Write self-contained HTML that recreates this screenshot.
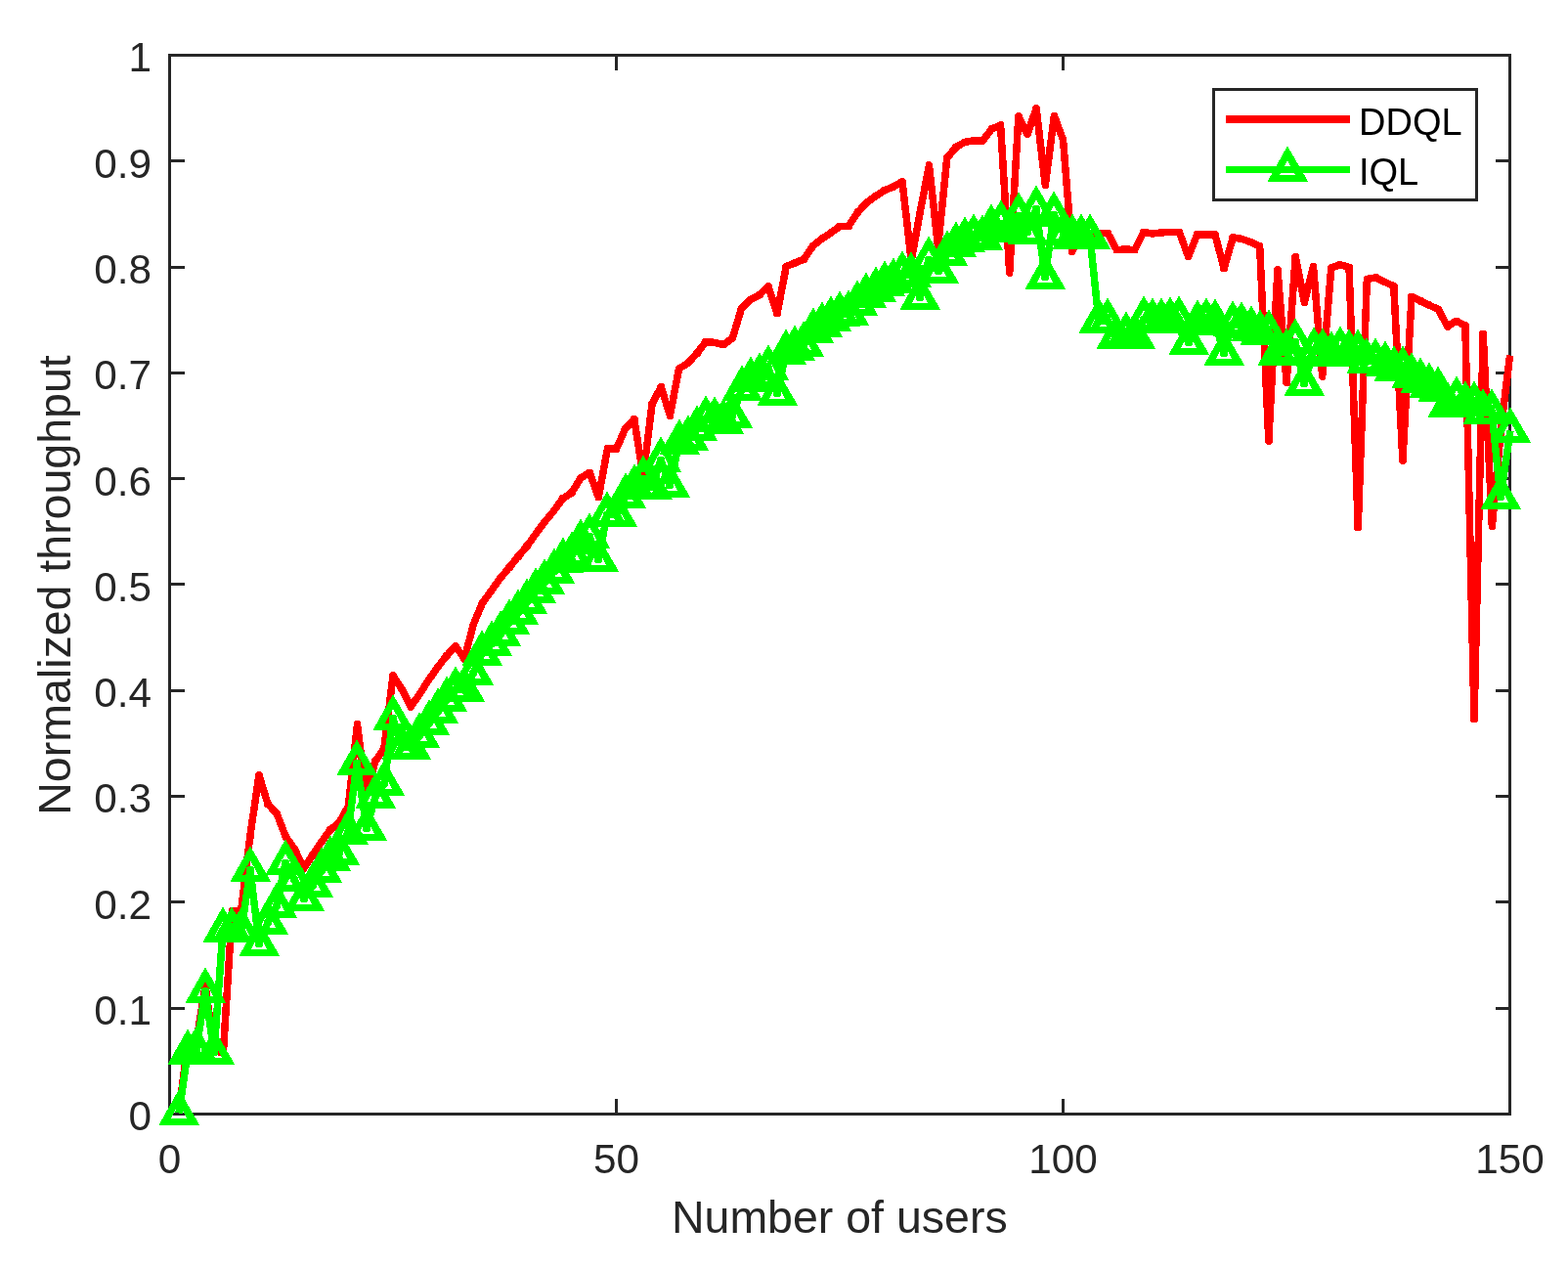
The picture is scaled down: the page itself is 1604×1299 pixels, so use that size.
<!DOCTYPE html>
<html lang="en"><head><meta charset="utf-8"><title>Normalized throughput vs number of users</title>
<style>
html,body{margin:0;padding:0;background:#fff;}
body{width:1604px;height:1299px;overflow:hidden;}
svg{display:block;}
text{font-family:"Liberation Sans", sans-serif;}
.t{font-size:42.3px;fill:#262626;}
.l{font-size:46.5px;fill:#262626;}
.g{font-size:38.0px;fill:#000;}
</style></head><body>
<svg width="1604" height="1299" viewBox="0 0 1604 1299">
<rect x="0" y="0" width="1604" height="1299" fill="#ffffff"/>

<g fill="#262626" shape-rendering="crispEdges">
<rect x="172" y="55" width="3" height="1086"/>
<rect x="1543" y="55" width="3" height="1086"/>
<rect x="172" y="55" width="1374" height="3"/>
<rect x="172" y="1138" width="1374" height="3"/>
<rect x="175" y="1030" width="14" height="3"/>
<rect x="1530" y="1030" width="13" height="3"/>
<rect x="175" y="921" width="14" height="3"/>
<rect x="1530" y="921" width="13" height="3"/>
<rect x="175" y="813" width="14" height="3"/>
<rect x="1530" y="813" width="13" height="3"/>
<rect x="175" y="705" width="14" height="3"/>
<rect x="1530" y="705" width="13" height="3"/>
<rect x="175" y="596" width="14" height="3"/>
<rect x="1530" y="596" width="13" height="3"/>
<rect x="175" y="488" width="14" height="3"/>
<rect x="1530" y="488" width="13" height="3"/>
<rect x="175" y="380" width="14" height="3"/>
<rect x="1530" y="380" width="13" height="3"/>
<rect x="175" y="272" width="14" height="3"/>
<rect x="1530" y="272" width="13" height="3"/>
<rect x="175" y="163" width="14" height="3"/>
<rect x="1530" y="163" width="13" height="3"/>
<rect x="629" y="1124" width="3" height="14"/>
<rect x="629" y="58" width="3" height="14"/>
<rect x="1086" y="1124" width="3" height="14"/>
<rect x="1086" y="58" width="3" height="14"/>
</g>
<text class="t" x="155.0" y="1156.30" text-anchor="end">0</text>
<text class="t" x="155.0" y="1048.00" text-anchor="end">0.1</text>
<text class="t" x="155.0" y="939.70" text-anchor="end">0.2</text>
<text class="t" x="155.0" y="831.40" text-anchor="end">0.3</text>
<text class="t" x="155.0" y="723.10" text-anchor="end">0.4</text>
<text class="t" x="155.0" y="614.80" text-anchor="end">0.5</text>
<text class="t" x="155.0" y="506.50" text-anchor="end">0.6</text>
<text class="t" x="155.0" y="398.20" text-anchor="end">0.7</text>
<text class="t" x="155.0" y="289.90" text-anchor="end">0.8</text>
<text class="t" x="155.0" y="181.60" text-anchor="end">0.9</text>
<text class="t" x="155.0" y="73.30" text-anchor="end">1</text>
<text class="t" x="173.50" y="1200.3" text-anchor="middle">0</text>
<text class="t" x="630.53" y="1200.3" text-anchor="middle">50</text>
<text class="t" x="1087.57" y="1200.3" text-anchor="middle">100</text>
<text class="t" x="1544.60" y="1200.3" text-anchor="middle">150</text>
<text class="l" x="858.8" y="1260.8" text-anchor="middle">Number of users</text>
<text class="l" transform="translate(72,598.5) rotate(-90)" text-anchor="middle">Normalized throughput</text>
<polyline points="183.00,1138.50 191.78,1068.93 200.92,1065.69 210.06,1008.31 219.20,1074.35 228.34,1077.27 237.48,931.67 246.63,931.67 255.77,855.67 264.91,793.10 274.05,822.44 283.19,832.29 292.33,856.00 301.47,868.45 310.61,888.47 319.75,874.72 328.89,860.98 338.03,848.64 347.17,841.06 356.31,824.82 365.45,740.92 374.59,814.53 383.74,778.81 392.88,765.82 402.02,691.12 411.16,705.20 420.30,722.84 429.44,709.53 438.58,695.45 447.72,682.46 456.86,670.56 466.00,660.81 475.14,673.80 484.28,638.62 493.42,616.86 502.56,604.20 511.70,591.53 520.85,580.60 529.99,569.45 539.13,558.51 548.27,545.74 557.41,533.51 566.55,522.57 575.69,509.91 584.83,503.84 593.97,489.01 603.11,483.27 612.25,508.61 621.39,459.24 630.53,459.24 639.67,438.35 648.81,428.82 657.96,486.52 667.10,412.91 676.24,395.91 685.38,424.93 694.52,377.29 703.66,371.34 712.80,361.60 721.94,349.58 731.08,350.34 740.22,352.61 749.36,345.79 758.50,315.26 767.64,306.28 776.78,301.73 785.92,293.07 795.07,320.46 804.21,272.61 813.35,268.82 822.49,265.14 831.63,251.61 840.77,244.14 849.91,238.19 859.05,231.58 868.19,231.26 877.33,217.18 886.47,207.44 895.61,200.62 904.75,194.67 913.89,190.99 923.03,185.79 932.18,266.55 941.32,216.32 950.46,169.23 959.60,252.80 968.74,161.76 977.88,150.61 987.02,145.30 996.16,143.79 1005.30,144.00 1014.44,131.88 1023.58,128.20 1032.72,279.00 1041.86,119.10 1051.00,137.08 1060.14,110.88 1069.29,189.47 1078.43,118.35 1087.57,143.35 1096.71,257.45 1105.85,238.62 1114.99,238.62 1124.13,238.62 1133.27,238.62 1142.41,255.72 1151.55,254.86 1160.69,255.72 1169.83,237.32 1178.97,239.05 1188.11,237.86 1197.25,237.54 1206.40,237.54 1215.54,262.54 1224.68,240.03 1233.82,240.03 1242.96,240.03 1252.10,274.45 1261.24,242.95 1270.38,244.36 1279.52,247.71 1288.66,251.83 1297.80,450.80 1306.94,275.86 1316.08,391.26 1325.22,262.87 1334.36,308.98 1343.51,272.83 1352.65,384.76 1361.79,274.02 1370.93,270.66 1380.07,273.37 1389.21,539.68 1398.35,285.38 1407.49,284.09 1416.63,288.42 1425.77,292.75 1434.91,470.93 1444.05,303.25 1453.19,307.79 1462.33,312.23 1471.47,316.56 1480.62,333.88 1489.76,328.25 1498.90,333.23 1508.04,735.62 1517.18,341.46 1526.32,538.48 1535.46,437.81 1544.60,363.44" fill="none" stroke="#ff0000" stroke-width="7.5" stroke-linejoin="bevel" stroke-linecap="butt" shape-rendering="crispEdges"/>
<path d="M189.83,1065.18L193.73,1065.18L195.53,1066.98L195.53,1070.88L193.73,1072.68L189.83,1072.68L188.03,1070.88L188.03,1066.98ZM198.97,1061.94L202.87,1061.94L204.67,1063.74L204.67,1067.64L202.87,1069.44L198.97,1069.44L197.17,1067.64L197.17,1063.74ZM208.11,1004.56L212.01,1004.56L213.81,1006.36L213.81,1010.26L212.01,1012.06L208.11,1012.06L206.31,1010.26L206.31,1006.36ZM217.25,1070.60L221.15,1070.60L222.95,1072.40L222.95,1076.30L221.15,1078.10L217.25,1078.10L215.45,1076.30L215.45,1072.40ZM226.39,1073.52L230.29,1073.52L232.09,1075.32L232.09,1079.22L230.29,1081.02L226.39,1081.02L224.59,1079.22L224.59,1075.32ZM235.53,927.92L239.43,927.92L241.23,929.72L241.23,933.62L239.43,935.42L235.53,935.42L233.73,933.62L233.73,929.72ZM244.68,927.92L248.58,927.92L250.38,929.72L250.38,933.62L248.58,935.42L244.68,935.42L242.88,933.62L242.88,929.72ZM253.82,851.92L257.72,851.92L259.52,853.72L259.52,857.62L257.72,859.42L253.82,859.42L252.02,857.62L252.02,853.72ZM262.96,789.35L266.86,789.35L268.66,791.15L268.66,795.05L266.86,796.85L262.96,796.85L261.16,795.05L261.16,791.15ZM272.10,818.69L276.00,818.69L277.80,820.49L277.80,824.39L276.00,826.19L272.10,826.19L270.30,824.39L270.30,820.49ZM281.24,828.54L285.14,828.54L286.94,830.34L286.94,834.24L285.14,836.04L281.24,836.04L279.44,834.24L279.44,830.34ZM290.38,852.25L294.28,852.25L296.08,854.05L296.08,857.95L294.28,859.75L290.38,859.75L288.58,857.95L288.58,854.05ZM299.52,864.70L303.42,864.70L305.22,866.50L305.22,870.40L303.42,872.20L299.52,872.20L297.72,870.40L297.72,866.50ZM308.66,884.72L312.56,884.72L314.36,886.52L314.36,890.42L312.56,892.22L308.66,892.22L306.86,890.42L306.86,886.52ZM317.80,870.97L321.70,870.97L323.50,872.77L323.50,876.67L321.70,878.47L317.80,878.47L316.00,876.67L316.00,872.77ZM326.94,857.23L330.84,857.23L332.64,859.03L332.64,862.93L330.84,864.73L326.94,864.73L325.14,862.93L325.14,859.03ZM336.08,844.89L339.98,844.89L341.78,846.69L341.78,850.59L339.98,852.39L336.08,852.39L334.28,850.59L334.28,846.69ZM345.22,837.31L349.12,837.31L350.92,839.11L350.92,843.01L349.12,844.81L345.22,844.81L343.42,843.01L343.42,839.11ZM354.36,821.07L358.26,821.07L360.06,822.87L360.06,826.77L358.26,828.57L354.36,828.57L352.56,826.77L352.56,822.87ZM363.50,737.17L367.40,737.17L369.20,738.97L369.20,742.87L367.40,744.67L363.50,744.67L361.70,742.87L361.70,738.97ZM372.64,810.78L376.54,810.78L378.34,812.58L378.34,816.49L376.54,818.28L372.64,818.28L370.84,816.49L370.84,812.58ZM381.79,775.06L385.69,775.06L387.49,776.86L387.49,780.76L385.69,782.56L381.79,782.56L379.99,780.76L379.99,776.86ZM390.93,762.07L394.83,762.07L396.63,763.87L396.63,767.77L394.83,769.57L390.93,769.57L389.13,767.77L389.13,763.87ZM400.07,687.37L403.97,687.37L405.77,689.17L405.77,693.07L403.97,694.87L400.07,694.87L398.27,693.07L398.27,689.17ZM409.21,701.45L413.11,701.45L414.91,703.25L414.91,707.15L413.11,708.95L409.21,708.95L407.41,707.15L407.41,703.25ZM418.35,719.09L422.25,719.09L424.05,720.89L424.05,724.79L422.25,726.59L418.35,726.59L416.55,724.79L416.55,720.89ZM427.49,705.78L431.39,705.78L433.19,707.58L433.19,711.48L431.39,713.28L427.49,713.28L425.69,711.48L425.69,707.58ZM436.63,691.70L440.53,691.70L442.33,693.50L442.33,697.40L440.53,699.20L436.63,699.20L434.83,697.40L434.83,693.50ZM445.77,678.71L449.67,678.71L451.47,680.51L451.47,684.41L449.67,686.21L445.77,686.21L443.97,684.41L443.97,680.51ZM454.91,666.81L458.81,666.81L460.61,668.61L460.61,672.51L458.81,674.31L454.91,674.31L453.11,672.51L453.11,668.61ZM464.05,657.06L467.95,657.06L469.75,658.86L469.75,662.76L467.95,664.56L464.05,664.56L462.25,662.76L462.25,658.86ZM473.19,670.05L477.09,670.05L478.89,671.85L478.89,675.75L477.09,677.55L473.19,677.55L471.39,675.75L471.39,671.85ZM482.33,634.87L486.23,634.87L488.03,636.67L488.03,640.57L486.23,642.37L482.33,642.37L480.53,640.57L480.53,636.67ZM491.47,613.11L495.37,613.11L497.17,614.91L497.17,618.81L495.37,620.61L491.47,620.61L489.67,618.81L489.67,614.91ZM500.61,600.45L504.51,600.45L506.31,602.25L506.31,606.15L504.51,607.95L500.61,607.95L498.81,606.15L498.81,602.25ZM509.75,587.78L513.65,587.78L515.45,589.58L515.45,593.48L513.65,595.28L509.75,595.28L507.95,593.48L507.95,589.58ZM518.90,576.85L522.80,576.85L524.60,578.65L524.60,582.55L522.80,584.35L518.90,584.35L517.10,582.55L517.10,578.65ZM528.04,565.70L531.94,565.70L533.74,567.50L533.74,571.40L531.94,573.20L528.04,573.20L526.24,571.40L526.24,567.50ZM537.18,554.76L541.08,554.76L542.88,556.56L542.88,560.46L541.08,562.26L537.18,562.26L535.38,560.46L535.38,556.56ZM546.32,541.99L550.22,541.99L552.02,543.79L552.02,547.69L550.22,549.49L546.32,549.49L544.52,547.69L544.52,543.79ZM555.46,529.76L559.36,529.76L561.16,531.56L561.16,535.46L559.36,537.26L555.46,537.26L553.66,535.46L553.66,531.56ZM564.60,518.82L568.50,518.82L570.30,520.62L570.30,524.52L568.50,526.32L564.60,526.32L562.80,524.52L562.80,520.62ZM573.74,506.16L577.64,506.16L579.44,507.96L579.44,511.86L577.64,513.66L573.74,513.66L571.94,511.86L571.94,507.96ZM582.88,500.09L586.78,500.09L588.58,501.89L588.58,505.79L586.78,507.59L582.88,507.59L581.08,505.79L581.08,501.89ZM592.02,485.26L595.92,485.26L597.72,487.06L597.72,490.96L595.92,492.76L592.02,492.76L590.22,490.96L590.22,487.06ZM601.16,479.52L605.06,479.52L606.86,481.32L606.86,485.22L605.06,487.02L601.16,487.02L599.36,485.22L599.36,481.32ZM610.30,504.86L614.20,504.86L616.00,506.66L616.00,510.56L614.20,512.36L610.30,512.36L608.50,510.56L608.50,506.66ZM619.44,455.49L623.34,455.49L625.14,457.29L625.14,461.19L623.34,462.99L619.44,462.99L617.64,461.19L617.64,457.29ZM628.58,455.49L632.48,455.49L634.28,457.29L634.28,461.19L632.48,462.99L628.58,462.99L626.78,461.19L626.78,457.29ZM637.72,434.60L641.62,434.60L643.42,436.40L643.42,440.30L641.62,442.10L637.72,442.10L635.92,440.30L635.92,436.40ZM646.86,425.07L650.76,425.07L652.56,426.87L652.56,430.77L650.76,432.57L646.86,432.57L645.06,430.77L645.06,426.87ZM656.01,482.77L659.91,482.77L661.71,484.57L661.71,488.47L659.91,490.27L656.01,490.27L654.21,488.47L654.21,484.57ZM665.15,409.16L669.05,409.16L670.85,410.96L670.85,414.86L669.05,416.66L665.15,416.66L663.35,414.86L663.35,410.96ZM674.29,392.16L678.19,392.16L679.99,393.96L679.99,397.86L678.19,399.66L674.29,399.66L672.49,397.86L672.49,393.96ZM683.43,421.18L687.33,421.18L689.13,422.98L689.13,426.88L687.33,428.68L683.43,428.68L681.63,426.88L681.63,422.98ZM692.57,373.54L696.47,373.54L698.27,375.34L698.27,379.24L696.47,381.04L692.57,381.04L690.77,379.24L690.77,375.34ZM701.71,367.59L705.61,367.59L707.41,369.39L707.41,373.29L705.61,375.09L701.71,375.09L699.91,373.29L699.91,369.39ZM710.85,357.85L714.75,357.85L716.55,359.65L716.55,363.55L714.75,365.35L710.85,365.35L709.05,363.55L709.05,359.65ZM719.99,345.83L723.89,345.83L725.69,347.63L725.69,351.53L723.89,353.33L719.99,353.33L718.19,351.53L718.19,347.63ZM729.13,346.59L733.03,346.59L734.83,348.39L734.83,352.29L733.03,354.09L729.13,354.09L727.33,352.29L727.33,348.39ZM738.27,348.86L742.17,348.86L743.97,350.66L743.97,354.56L742.17,356.36L738.27,356.36L736.47,354.56L736.47,350.66ZM747.41,342.04L751.31,342.04L753.11,343.84L753.11,347.74L751.31,349.54L747.41,349.54L745.61,347.74L745.61,343.84ZM756.55,311.51L760.45,311.51L762.25,313.31L762.25,317.21L760.45,319.01L756.55,319.01L754.75,317.21L754.75,313.31ZM765.69,302.53L769.59,302.53L771.39,304.33L771.39,308.23L769.59,310.03L765.69,310.03L763.89,308.23L763.89,304.33ZM774.83,297.98L778.73,297.98L780.53,299.78L780.53,303.68L778.73,305.48L774.83,305.48L773.03,303.68L773.03,299.78ZM783.97,289.32L787.87,289.32L789.67,291.12L789.67,295.02L787.87,296.82L783.97,296.82L782.17,295.02L782.17,291.12ZM793.12,316.71L797.02,316.71L798.82,318.51L798.82,322.41L797.02,324.21L793.12,324.21L791.32,322.41L791.32,318.51ZM802.26,268.86L806.16,268.86L807.96,270.66L807.96,274.56L806.16,276.36L802.26,276.36L800.46,274.56L800.46,270.66ZM811.40,265.07L815.30,265.07L817.10,266.87L817.10,270.77L815.30,272.57L811.40,272.57L809.60,270.77L809.60,266.87ZM820.54,261.39L824.44,261.39L826.24,263.19L826.24,267.09L824.44,268.89L820.54,268.89L818.74,267.09L818.74,263.19ZM829.68,247.86L833.58,247.86L835.38,249.66L835.38,253.56L833.58,255.36L829.68,255.36L827.88,253.56L827.88,249.66ZM838.82,240.39L842.72,240.39L844.52,242.19L844.52,246.09L842.72,247.89L838.82,247.89L837.02,246.09L837.02,242.19ZM847.96,234.44L851.86,234.44L853.66,236.24L853.66,240.14L851.86,241.94L847.96,241.94L846.16,240.14L846.16,236.24ZM857.10,227.83L861.00,227.83L862.80,229.63L862.80,233.53L861.00,235.33L857.10,235.33L855.30,233.53L855.30,229.63ZM866.24,227.51L870.14,227.51L871.94,229.31L871.94,233.21L870.14,235.01L866.24,235.01L864.44,233.21L864.44,229.31ZM875.38,213.43L879.28,213.43L881.08,215.23L881.08,219.13L879.28,220.93L875.38,220.93L873.58,219.13L873.58,215.23ZM884.52,203.69L888.42,203.69L890.22,205.49L890.22,209.39L888.42,211.19L884.52,211.19L882.72,209.39L882.72,205.49ZM893.66,196.87L897.56,196.87L899.36,198.67L899.36,202.57L897.56,204.37L893.66,204.37L891.86,202.57L891.86,198.67ZM902.80,190.92L906.70,190.92L908.50,192.72L908.50,196.62L906.70,198.42L902.80,198.42L901.00,196.62L901.00,192.72ZM911.94,187.24L915.84,187.24L917.64,189.04L917.64,192.94L915.84,194.74L911.94,194.74L910.14,192.94L910.14,189.04ZM921.08,182.04L924.98,182.04L926.78,183.84L926.78,187.74L924.98,189.54L921.08,189.54L919.28,187.74L919.28,183.84ZM930.23,262.80L934.13,262.80L935.93,264.60L935.93,268.50L934.13,270.30L930.23,270.30L928.43,268.50L928.43,264.60ZM939.37,212.57L943.27,212.57L945.07,214.37L945.07,218.27L943.27,220.07L939.37,220.07L937.57,218.27L937.57,214.37ZM948.51,165.48L952.41,165.48L954.21,167.28L954.21,171.18L952.41,172.98L948.51,172.98L946.71,171.18L946.71,167.28ZM957.65,249.05L961.55,249.05L963.35,250.85L963.35,254.75L961.55,256.55L957.65,256.55L955.85,254.75L955.85,250.85ZM966.79,158.01L970.69,158.01L972.49,159.81L972.49,163.71L970.69,165.51L966.79,165.51L964.99,163.71L964.99,159.81ZM975.93,146.86L979.83,146.86L981.63,148.66L981.63,152.56L979.83,154.36L975.93,154.36L974.13,152.56L974.13,148.66ZM985.07,141.55L988.97,141.55L990.77,143.35L990.77,147.25L988.97,149.05L985.07,149.05L983.27,147.25L983.27,143.35ZM994.21,140.04L998.11,140.04L999.91,141.84L999.91,145.74L998.11,147.54L994.21,147.54L992.41,145.74L992.41,141.84ZM1003.35,140.25L1007.25,140.25L1009.05,142.05L1009.05,145.95L1007.25,147.75L1003.35,147.75L1001.55,145.95L1001.55,142.05ZM1012.49,128.13L1016.39,128.13L1018.19,129.93L1018.19,133.83L1016.39,135.63L1012.49,135.63L1010.69,133.83L1010.69,129.93ZM1021.63,124.45L1025.53,124.45L1027.33,126.25L1027.33,130.15L1025.53,131.95L1021.63,131.95L1019.83,130.15L1019.83,126.25ZM1030.77,275.25L1034.67,275.25L1036.47,277.05L1036.47,280.95L1034.67,282.75L1030.77,282.75L1028.97,280.95L1028.97,277.05ZM1039.91,115.35L1043.81,115.35L1045.61,117.15L1045.61,121.05L1043.81,122.85L1039.91,122.85L1038.11,121.05L1038.11,117.15ZM1049.05,133.33L1052.95,133.33L1054.75,135.13L1054.75,139.03L1052.95,140.83L1049.05,140.83L1047.25,139.03L1047.25,135.13ZM1058.19,107.13L1062.09,107.13L1063.89,108.93L1063.89,112.83L1062.09,114.63L1058.19,114.63L1056.39,112.83L1056.39,108.93ZM1067.34,185.72L1071.24,185.72L1073.04,187.52L1073.04,191.42L1071.24,193.22L1067.34,193.22L1065.54,191.42L1065.54,187.52ZM1076.48,114.60L1080.38,114.60L1082.18,116.40L1082.18,120.30L1080.38,122.10L1076.48,122.10L1074.68,120.30L1074.68,116.40ZM1085.62,139.60L1089.52,139.60L1091.32,141.40L1091.32,145.30L1089.52,147.10L1085.62,147.10L1083.82,145.30L1083.82,141.40ZM1094.76,253.70L1098.66,253.70L1100.46,255.50L1100.46,259.40L1098.66,261.20L1094.76,261.20L1092.96,259.40L1092.96,255.50ZM1103.90,234.87L1107.80,234.87L1109.60,236.67L1109.60,240.57L1107.80,242.37L1103.90,242.37L1102.10,240.57L1102.10,236.67ZM1113.04,234.87L1116.94,234.87L1118.74,236.67L1118.74,240.57L1116.94,242.37L1113.04,242.37L1111.24,240.57L1111.24,236.67ZM1122.18,234.87L1126.08,234.87L1127.88,236.67L1127.88,240.57L1126.08,242.37L1122.18,242.37L1120.38,240.57L1120.38,236.67ZM1131.32,234.87L1135.22,234.87L1137.02,236.67L1137.02,240.57L1135.22,242.37L1131.32,242.37L1129.52,240.57L1129.52,236.67ZM1140.46,251.97L1144.36,251.97L1146.16,253.77L1146.16,257.67L1144.36,259.47L1140.46,259.47L1138.66,257.67L1138.66,253.77ZM1149.60,251.11L1153.50,251.11L1155.30,252.91L1155.30,256.81L1153.50,258.61L1149.60,258.61L1147.80,256.81L1147.80,252.91ZM1158.74,251.97L1162.64,251.97L1164.44,253.77L1164.44,257.67L1162.64,259.47L1158.74,259.47L1156.94,257.67L1156.94,253.77ZM1167.88,233.57L1171.78,233.57L1173.58,235.37L1173.58,239.27L1171.78,241.07L1167.88,241.07L1166.08,239.27L1166.08,235.37ZM1177.02,235.30L1180.92,235.30L1182.72,237.10L1182.72,241.00L1180.92,242.80L1177.02,242.80L1175.22,241.00L1175.22,237.10ZM1186.16,234.11L1190.06,234.11L1191.86,235.91L1191.86,239.81L1190.06,241.61L1186.16,241.61L1184.36,239.81L1184.36,235.91ZM1195.30,233.79L1199.20,233.79L1201.00,235.59L1201.00,239.49L1199.20,241.29L1195.30,241.29L1193.50,239.49L1193.50,235.59ZM1204.45,233.79L1208.35,233.79L1210.15,235.59L1210.15,239.49L1208.35,241.29L1204.45,241.29L1202.65,239.49L1202.65,235.59ZM1213.59,258.79L1217.49,258.79L1219.29,260.59L1219.29,264.49L1217.49,266.29L1213.59,266.29L1211.79,264.49L1211.79,260.59ZM1222.73,236.28L1226.63,236.28L1228.43,238.08L1228.43,241.98L1226.63,243.78L1222.73,243.78L1220.93,241.98L1220.93,238.08ZM1231.87,236.28L1235.77,236.28L1237.57,238.08L1237.57,241.98L1235.77,243.78L1231.87,243.78L1230.07,241.98L1230.07,238.08ZM1241.01,236.28L1244.91,236.28L1246.71,238.08L1246.71,241.98L1244.91,243.78L1241.01,243.78L1239.21,241.98L1239.21,238.08ZM1250.15,270.70L1254.05,270.70L1255.85,272.50L1255.85,276.40L1254.05,278.20L1250.15,278.20L1248.35,276.40L1248.35,272.50ZM1259.29,239.20L1263.19,239.20L1264.99,241.00L1264.99,244.90L1263.19,246.70L1259.29,246.70L1257.49,244.90L1257.49,241.00ZM1268.43,240.61L1272.33,240.61L1274.13,242.41L1274.13,246.31L1272.33,248.11L1268.43,248.11L1266.63,246.31L1266.63,242.41ZM1277.57,243.96L1281.47,243.96L1283.27,245.76L1283.27,249.66L1281.47,251.46L1277.57,251.46L1275.77,249.66L1275.77,245.76ZM1286.71,248.08L1290.61,248.08L1292.41,249.88L1292.41,253.78L1290.61,255.58L1286.71,255.58L1284.91,253.78L1284.91,249.88ZM1295.85,447.05L1299.75,447.05L1301.55,448.85L1301.55,452.75L1299.75,454.55L1295.85,454.55L1294.05,452.75L1294.05,448.85ZM1304.99,272.11L1308.89,272.11L1310.69,273.91L1310.69,277.81L1308.89,279.61L1304.99,279.61L1303.19,277.81L1303.19,273.91ZM1314.13,387.51L1318.03,387.51L1319.83,389.31L1319.83,393.21L1318.03,395.01L1314.13,395.01L1312.33,393.21L1312.33,389.31ZM1323.27,259.12L1327.17,259.12L1328.97,260.92L1328.97,264.82L1327.17,266.62L1323.27,266.62L1321.47,264.82L1321.47,260.92ZM1332.41,305.23L1336.31,305.23L1338.11,307.03L1338.11,310.93L1336.31,312.73L1332.41,312.73L1330.61,310.93L1330.61,307.03ZM1341.56,269.08L1345.46,269.08L1347.26,270.88L1347.26,274.78L1345.46,276.58L1341.56,276.58L1339.76,274.78L1339.76,270.88ZM1350.70,381.01L1354.60,381.01L1356.40,382.81L1356.40,386.71L1354.60,388.51L1350.70,388.51L1348.90,386.71L1348.90,382.81ZM1359.84,270.27L1363.74,270.27L1365.54,272.07L1365.54,275.97L1363.74,277.77L1359.84,277.77L1358.04,275.97L1358.04,272.07ZM1368.98,266.91L1372.88,266.91L1374.68,268.71L1374.68,272.61L1372.88,274.41L1368.98,274.41L1367.18,272.61L1367.18,268.71ZM1378.12,269.62L1382.02,269.62L1383.82,271.42L1383.82,275.32L1382.02,277.12L1378.12,277.12L1376.32,275.32L1376.32,271.42ZM1387.26,535.93L1391.16,535.93L1392.96,537.73L1392.96,541.63L1391.16,543.43L1387.26,543.43L1385.46,541.63L1385.46,537.73ZM1396.40,281.63L1400.30,281.63L1402.10,283.43L1402.10,287.33L1400.30,289.13L1396.40,289.13L1394.60,287.33L1394.60,283.43ZM1405.54,280.34L1409.44,280.34L1411.24,282.14L1411.24,286.04L1409.44,287.84L1405.54,287.84L1403.74,286.04L1403.74,282.14ZM1414.68,284.67L1418.58,284.67L1420.38,286.47L1420.38,290.37L1418.58,292.17L1414.68,292.17L1412.88,290.37L1412.88,286.47ZM1423.82,289.00L1427.72,289.00L1429.52,290.80L1429.52,294.70L1427.72,296.50L1423.82,296.50L1422.02,294.70L1422.02,290.80ZM1432.96,467.18L1436.86,467.18L1438.66,468.98L1438.66,472.88L1436.86,474.68L1432.96,474.68L1431.16,472.88L1431.16,468.98ZM1442.10,299.50L1446.00,299.50L1447.80,301.30L1447.80,305.20L1446.00,307.00L1442.10,307.00L1440.30,305.20L1440.30,301.30ZM1451.24,304.04L1455.14,304.04L1456.94,305.84L1456.94,309.74L1455.14,311.54L1451.24,311.54L1449.44,309.74L1449.44,305.84ZM1460.38,308.48L1464.28,308.48L1466.08,310.28L1466.08,314.18L1464.28,315.98L1460.38,315.98L1458.58,314.18L1458.58,310.28ZM1469.52,312.81L1473.42,312.81L1475.22,314.61L1475.22,318.51L1473.42,320.31L1469.52,320.31L1467.72,318.51L1467.72,314.61ZM1478.67,330.13L1482.57,330.13L1484.37,331.93L1484.37,335.83L1482.57,337.63L1478.67,337.63L1476.87,335.83L1476.87,331.93ZM1487.81,324.50L1491.71,324.50L1493.51,326.30L1493.51,330.20L1491.71,332.00L1487.81,332.00L1486.01,330.20L1486.01,326.30ZM1496.95,329.48L1500.85,329.48L1502.65,331.28L1502.65,335.18L1500.85,336.98L1496.95,336.98L1495.15,335.18L1495.15,331.28ZM1506.09,731.87L1509.99,731.87L1511.79,733.67L1511.79,737.57L1509.99,739.37L1506.09,739.37L1504.29,737.57L1504.29,733.67ZM1515.23,337.71L1519.13,337.71L1520.93,339.51L1520.93,343.41L1519.13,345.21L1515.23,345.21L1513.43,343.41L1513.43,339.51ZM1524.37,534.73L1528.27,534.73L1530.07,536.53L1530.07,540.43L1528.27,542.23L1524.37,542.23L1522.57,540.43L1522.57,536.53ZM1533.51,434.06L1537.41,434.06L1539.21,435.86L1539.21,439.76L1537.41,441.56L1533.51,441.56L1531.71,439.76L1531.71,435.86Z" fill="#ff0000" stroke="none" shape-rendering="crispEdges"/>
<polyline points="183.00,1138.50 192.00,1076.50 201.00,1073.50 210.00,1013.50 219.00,1076.50 228.00,951.50 237.00,951.50 247.00,951.50 256.00,889.50 265.00,965.50 274.00,943.50 283.00,926.50 292.00,882.50 301.00,899.50 311.00,919.50 320.00,905.50 329.00,890.50 338.00,878.50 347.00,872.50 356.00,851.50 365.00,780.50 375.00,847.50 384.00,814.50 393.00,801.50 402.00,734.50 411.00,764.50 420.00,764.50 429.00,752.50 439.00,739.50 448.00,727.50 457.00,715.50 466.00,705.50 475.00,705.50 484.00,688.50 493.00,668.50 503.00,658.50 512.00,648.50 521.00,636.50 530.00,626.50 539.00,615.50 548.00,604.50 557.00,595.50 567.00,584.50 576.00,573.50 585.00,567.50 594.00,554.50 603.00,548.50 612.00,572.50 621.00,526.50 631.00,526.50 640.00,507.50 649.00,498.50 658.00,489.50 667.00,498.50 676.00,470.50 685.00,496.50 695.00,452.50 704.00,448.50 713.00,438.50 722.00,428.50 731.00,429.50 740.00,431.50 749.00,425.50 759.00,397.50 768.00,388.50 777.00,384.50 786.00,376.50 795.00,402.50 804.00,360.50 813.00,356.50 822.00,352.50 832.00,338.50 841.00,332.50 850.00,326.50 859.00,321.50 868.00,320.50 877.00,310.50 886.00,302.50 896.00,296.50 905.00,290.50 914.00,287.50 923.00,280.50 932.00,281.50 941.00,304.50 950.00,265.50 960.00,277.50 969.00,259.50 978.00,250.50 987.00,245.50 996.00,242.50 1005.00,243.50 1014.00,232.50 1024.00,228.50 1033.00,235.50 1042.00,220.50 1051.00,237.50 1060.00,213.50 1069.00,283.50 1078.00,219.50 1088.00,238.50 1097.00,242.50 1106.00,242.50 1115.00,242.50 1124.00,328.50 1133.00,328.50 1142.00,344.50 1152.00,342.50 1161.00,344.50 1170.00,326.50 1179.00,328.50 1188.00,328.50 1197.00,327.50 1206.00,326.50 1216.00,350.50 1225.00,330.50 1234.00,328.50 1243.00,329.50 1252.00,361.50 1261.00,331.50 1270.00,332.50 1280.00,336.50 1289.00,340.50 1298.00,340.50 1307.00,361.50 1316.00,359.50 1325.00,349.50 1334.00,392.50 1344.00,358.50 1353.00,359.50 1362.00,362.50 1371.00,357.50 1380.00,360.50 1389.00,360.50 1398.00,369.50 1407.00,369.50 1417.00,372.50 1426.00,377.50 1435.00,377.50 1444.00,384.50 1453.00,389.50 1462.00,394.50 1471.00,398.50 1481.00,414.50 1490.00,408.50 1499.00,413.50 1508.00,413.50 1517.00,421.50 1526.00,421.50 1535.00,508.50 1545.00,440.50" fill="none" stroke="#00ff00" stroke-width="7.5" stroke-linejoin="bevel" stroke-linecap="butt" shape-rendering="crispEdges"/>
<path d="M190.05,1072.75L193.95,1072.75L195.75,1074.55L195.75,1078.45L193.95,1080.25L190.05,1080.25L188.25,1078.45L188.25,1074.55ZM199.05,1069.75L202.95,1069.75L204.75,1071.55L204.75,1075.45L202.95,1077.25L199.05,1077.25L197.25,1075.45L197.25,1071.55ZM208.05,1009.75L211.95,1009.75L213.75,1011.55L213.75,1015.45L211.95,1017.25L208.05,1017.25L206.25,1015.45L206.25,1011.55ZM217.05,1072.75L220.95,1072.75L222.75,1074.55L222.75,1078.45L220.95,1080.25L217.05,1080.25L215.25,1078.45L215.25,1074.55ZM226.05,947.75L229.95,947.75L231.75,949.55L231.75,953.45L229.95,955.25L226.05,955.25L224.25,953.45L224.25,949.55ZM235.05,947.75L238.95,947.75L240.75,949.55L240.75,953.45L238.95,955.25L235.05,955.25L233.25,953.45L233.25,949.55ZM245.05,947.75L248.95,947.75L250.75,949.55L250.75,953.45L248.95,955.25L245.05,955.25L243.25,953.45L243.25,949.55ZM254.05,885.75L257.95,885.75L259.75,887.55L259.75,891.45L257.95,893.25L254.05,893.25L252.25,891.45L252.25,887.55ZM263.05,961.75L266.95,961.75L268.75,963.55L268.75,967.45L266.95,969.25L263.05,969.25L261.25,967.45L261.25,963.55ZM272.05,939.75L275.95,939.75L277.75,941.55L277.75,945.45L275.95,947.25L272.05,947.25L270.25,945.45L270.25,941.55ZM281.05,922.75L284.95,922.75L286.75,924.55L286.75,928.45L284.95,930.25L281.05,930.25L279.25,928.45L279.25,924.55ZM290.05,878.75L293.95,878.75L295.75,880.55L295.75,884.45L293.95,886.25L290.05,886.25L288.25,884.45L288.25,880.55ZM299.05,895.75L302.95,895.75L304.75,897.55L304.75,901.45L302.95,903.25L299.05,903.25L297.25,901.45L297.25,897.55ZM309.05,915.75L312.95,915.75L314.75,917.55L314.75,921.45L312.95,923.25L309.05,923.25L307.25,921.45L307.25,917.55ZM318.05,901.75L321.95,901.75L323.75,903.55L323.75,907.45L321.95,909.25L318.05,909.25L316.25,907.45L316.25,903.55ZM327.05,886.75L330.95,886.75L332.75,888.55L332.75,892.45L330.95,894.25L327.05,894.25L325.25,892.45L325.25,888.55ZM336.05,874.75L339.95,874.75L341.75,876.55L341.75,880.45L339.95,882.25L336.05,882.25L334.25,880.45L334.25,876.55ZM345.05,868.75L348.95,868.75L350.75,870.55L350.75,874.45L348.95,876.25L345.05,876.25L343.25,874.45L343.25,870.55ZM354.05,847.75L357.95,847.75L359.75,849.55L359.75,853.45L357.95,855.25L354.05,855.25L352.25,853.45L352.25,849.55ZM363.05,776.75L366.95,776.75L368.75,778.55L368.75,782.45L366.95,784.25L363.05,784.25L361.25,782.45L361.25,778.55ZM373.05,843.75L376.95,843.75L378.75,845.55L378.75,849.45L376.95,851.25L373.05,851.25L371.25,849.45L371.25,845.55ZM382.05,810.75L385.95,810.75L387.75,812.55L387.75,816.45L385.95,818.25L382.05,818.25L380.25,816.45L380.25,812.55ZM391.05,797.75L394.95,797.75L396.75,799.55L396.75,803.45L394.95,805.25L391.05,805.25L389.25,803.45L389.25,799.55ZM400.05,730.75L403.95,730.75L405.75,732.55L405.75,736.45L403.95,738.25L400.05,738.25L398.25,736.45L398.25,732.55ZM409.05,760.75L412.95,760.75L414.75,762.55L414.75,766.45L412.95,768.25L409.05,768.25L407.25,766.45L407.25,762.55ZM418.05,760.75L421.95,760.75L423.75,762.55L423.75,766.45L421.95,768.25L418.05,768.25L416.25,766.45L416.25,762.55ZM427.05,748.75L430.95,748.75L432.75,750.55L432.75,754.45L430.95,756.25L427.05,756.25L425.25,754.45L425.25,750.55ZM437.05,735.75L440.95,735.75L442.75,737.55L442.75,741.45L440.95,743.25L437.05,743.25L435.25,741.45L435.25,737.55ZM446.05,723.75L449.95,723.75L451.75,725.55L451.75,729.45L449.95,731.25L446.05,731.25L444.25,729.45L444.25,725.55ZM455.05,711.75L458.95,711.75L460.75,713.55L460.75,717.45L458.95,719.25L455.05,719.25L453.25,717.45L453.25,713.55ZM464.05,701.75L467.95,701.75L469.75,703.55L469.75,707.45L467.95,709.25L464.05,709.25L462.25,707.45L462.25,703.55ZM473.05,701.75L476.95,701.75L478.75,703.55L478.75,707.45L476.95,709.25L473.05,709.25L471.25,707.45L471.25,703.55ZM482.05,684.75L485.95,684.75L487.75,686.55L487.75,690.45L485.95,692.25L482.05,692.25L480.25,690.45L480.25,686.55ZM491.05,664.75L494.95,664.75L496.75,666.55L496.75,670.45L494.95,672.25L491.05,672.25L489.25,670.45L489.25,666.55ZM501.05,654.75L504.95,654.75L506.75,656.55L506.75,660.45L504.95,662.25L501.05,662.25L499.25,660.45L499.25,656.55ZM510.05,644.75L513.95,644.75L515.75,646.55L515.75,650.45L513.95,652.25L510.05,652.25L508.25,650.45L508.25,646.55ZM519.05,632.75L522.95,632.75L524.75,634.55L524.75,638.45L522.95,640.25L519.05,640.25L517.25,638.45L517.25,634.55ZM528.05,622.75L531.95,622.75L533.75,624.55L533.75,628.45L531.95,630.25L528.05,630.25L526.25,628.45L526.25,624.55ZM537.05,611.75L540.95,611.75L542.75,613.55L542.75,617.45L540.95,619.25L537.05,619.25L535.25,617.45L535.25,613.55ZM546.05,600.75L549.95,600.75L551.75,602.55L551.75,606.45L549.95,608.25L546.05,608.25L544.25,606.45L544.25,602.55ZM555.05,591.75L558.95,591.75L560.75,593.55L560.75,597.45L558.95,599.25L555.05,599.25L553.25,597.45L553.25,593.55ZM565.05,580.75L568.95,580.75L570.75,582.55L570.75,586.45L568.95,588.25L565.05,588.25L563.25,586.45L563.25,582.55ZM574.05,569.75L577.95,569.75L579.75,571.55L579.75,575.45L577.95,577.25L574.05,577.25L572.25,575.45L572.25,571.55ZM583.05,563.75L586.95,563.75L588.75,565.55L588.75,569.45L586.95,571.25L583.05,571.25L581.25,569.45L581.25,565.55ZM592.05,550.75L595.95,550.75L597.75,552.55L597.75,556.45L595.95,558.25L592.05,558.25L590.25,556.45L590.25,552.55ZM601.05,544.75L604.95,544.75L606.75,546.55L606.75,550.45L604.95,552.25L601.05,552.25L599.25,550.45L599.25,546.55ZM610.05,568.75L613.95,568.75L615.75,570.55L615.75,574.45L613.95,576.25L610.05,576.25L608.25,574.45L608.25,570.55ZM619.05,522.75L622.95,522.75L624.75,524.55L624.75,528.45L622.95,530.25L619.05,530.25L617.25,528.45L617.25,524.55ZM629.05,522.75L632.95,522.75L634.75,524.55L634.75,528.45L632.95,530.25L629.05,530.25L627.25,528.45L627.25,524.55ZM638.05,503.75L641.95,503.75L643.75,505.55L643.75,509.45L641.95,511.25L638.05,511.25L636.25,509.45L636.25,505.55ZM647.05,494.75L650.95,494.75L652.75,496.55L652.75,500.45L650.95,502.25L647.05,502.25L645.25,500.45L645.25,496.55ZM656.05,485.75L659.95,485.75L661.75,487.55L661.75,491.45L659.95,493.25L656.05,493.25L654.25,491.45L654.25,487.55ZM665.05,494.75L668.95,494.75L670.75,496.55L670.75,500.45L668.95,502.25L665.05,502.25L663.25,500.45L663.25,496.55ZM674.05,466.75L677.95,466.75L679.75,468.55L679.75,472.45L677.95,474.25L674.05,474.25L672.25,472.45L672.25,468.55ZM683.05,492.75L686.95,492.75L688.75,494.55L688.75,498.45L686.95,500.25L683.05,500.25L681.25,498.45L681.25,494.55ZM693.05,448.75L696.95,448.75L698.75,450.55L698.75,454.45L696.95,456.25L693.05,456.25L691.25,454.45L691.25,450.55ZM702.05,444.75L705.95,444.75L707.75,446.55L707.75,450.45L705.95,452.25L702.05,452.25L700.25,450.45L700.25,446.55ZM711.05,434.75L714.95,434.75L716.75,436.55L716.75,440.45L714.95,442.25L711.05,442.25L709.25,440.45L709.25,436.55ZM720.05,424.75L723.95,424.75L725.75,426.55L725.75,430.45L723.95,432.25L720.05,432.25L718.25,430.45L718.25,426.55ZM729.05,425.75L732.95,425.75L734.75,427.55L734.75,431.45L732.95,433.25L729.05,433.25L727.25,431.45L727.25,427.55ZM738.05,427.75L741.95,427.75L743.75,429.55L743.75,433.45L741.95,435.25L738.05,435.25L736.25,433.45L736.25,429.55ZM747.05,421.75L750.95,421.75L752.75,423.55L752.75,427.45L750.95,429.25L747.05,429.25L745.25,427.45L745.25,423.55ZM757.05,393.75L760.95,393.75L762.75,395.55L762.75,399.45L760.95,401.25L757.05,401.25L755.25,399.45L755.25,395.55ZM766.05,384.75L769.95,384.75L771.75,386.55L771.75,390.45L769.95,392.25L766.05,392.25L764.25,390.45L764.25,386.55ZM775.05,380.75L778.95,380.75L780.75,382.55L780.75,386.45L778.95,388.25L775.05,388.25L773.25,386.45L773.25,382.55ZM784.05,372.75L787.95,372.75L789.75,374.55L789.75,378.45L787.95,380.25L784.05,380.25L782.25,378.45L782.25,374.55ZM793.05,398.75L796.95,398.75L798.75,400.55L798.75,404.45L796.95,406.25L793.05,406.25L791.25,404.45L791.25,400.55ZM802.05,356.75L805.95,356.75L807.75,358.55L807.75,362.45L805.95,364.25L802.05,364.25L800.25,362.45L800.25,358.55ZM811.05,352.75L814.95,352.75L816.75,354.55L816.75,358.45L814.95,360.25L811.05,360.25L809.25,358.45L809.25,354.55ZM820.05,348.75L823.95,348.75L825.75,350.55L825.75,354.45L823.95,356.25L820.05,356.25L818.25,354.45L818.25,350.55ZM830.05,334.75L833.95,334.75L835.75,336.55L835.75,340.45L833.95,342.25L830.05,342.25L828.25,340.45L828.25,336.55ZM839.05,328.75L842.95,328.75L844.75,330.55L844.75,334.45L842.95,336.25L839.05,336.25L837.25,334.45L837.25,330.55ZM848.05,322.75L851.95,322.75L853.75,324.55L853.75,328.45L851.95,330.25L848.05,330.25L846.25,328.45L846.25,324.55ZM857.05,317.75L860.95,317.75L862.75,319.55L862.75,323.45L860.95,325.25L857.05,325.25L855.25,323.45L855.25,319.55ZM866.05,316.75L869.95,316.75L871.75,318.55L871.75,322.45L869.95,324.25L866.05,324.25L864.25,322.45L864.25,318.55ZM875.05,306.75L878.95,306.75L880.75,308.55L880.75,312.45L878.95,314.25L875.05,314.25L873.25,312.45L873.25,308.55ZM884.05,298.75L887.95,298.75L889.75,300.55L889.75,304.45L887.95,306.25L884.05,306.25L882.25,304.45L882.25,300.55ZM894.05,292.75L897.95,292.75L899.75,294.55L899.75,298.45L897.95,300.25L894.05,300.25L892.25,298.45L892.25,294.55ZM903.05,286.75L906.95,286.75L908.75,288.55L908.75,292.45L906.95,294.25L903.05,294.25L901.25,292.45L901.25,288.55ZM912.05,283.75L915.95,283.75L917.75,285.55L917.75,289.45L915.95,291.25L912.05,291.25L910.25,289.45L910.25,285.55ZM921.05,276.75L924.95,276.75L926.75,278.55L926.75,282.45L924.95,284.25L921.05,284.25L919.25,282.45L919.25,278.55ZM930.05,277.75L933.95,277.75L935.75,279.55L935.75,283.45L933.95,285.25L930.05,285.25L928.25,283.45L928.25,279.55ZM939.05,300.75L942.95,300.75L944.75,302.55L944.75,306.45L942.95,308.25L939.05,308.25L937.25,306.45L937.25,302.55ZM948.05,261.75L951.95,261.75L953.75,263.55L953.75,267.45L951.95,269.25L948.05,269.25L946.25,267.45L946.25,263.55ZM958.05,273.75L961.95,273.75L963.75,275.55L963.75,279.45L961.95,281.25L958.05,281.25L956.25,279.45L956.25,275.55ZM967.05,255.75L970.95,255.75L972.75,257.55L972.75,261.45L970.95,263.25L967.05,263.25L965.25,261.45L965.25,257.55ZM976.05,246.75L979.95,246.75L981.75,248.55L981.75,252.45L979.95,254.25L976.05,254.25L974.25,252.45L974.25,248.55ZM985.05,241.75L988.95,241.75L990.75,243.55L990.75,247.45L988.95,249.25L985.05,249.25L983.25,247.45L983.25,243.55ZM994.05,238.75L997.95,238.75L999.75,240.55L999.75,244.45L997.95,246.25L994.05,246.25L992.25,244.45L992.25,240.55ZM1003.05,239.75L1006.95,239.75L1008.75,241.55L1008.75,245.45L1006.95,247.25L1003.05,247.25L1001.25,245.45L1001.25,241.55ZM1012.05,228.75L1015.95,228.75L1017.75,230.55L1017.75,234.45L1015.95,236.25L1012.05,236.25L1010.25,234.45L1010.25,230.55ZM1022.05,224.75L1025.95,224.75L1027.75,226.55L1027.75,230.45L1025.95,232.25L1022.05,232.25L1020.25,230.45L1020.25,226.55ZM1031.05,231.75L1034.95,231.75L1036.75,233.55L1036.75,237.45L1034.95,239.25L1031.05,239.25L1029.25,237.45L1029.25,233.55ZM1040.05,216.75L1043.95,216.75L1045.75,218.55L1045.75,222.45L1043.95,224.25L1040.05,224.25L1038.25,222.45L1038.25,218.55ZM1049.05,233.75L1052.95,233.75L1054.75,235.55L1054.75,239.45L1052.95,241.25L1049.05,241.25L1047.25,239.45L1047.25,235.55ZM1058.05,209.75L1061.95,209.75L1063.75,211.55L1063.75,215.45L1061.95,217.25L1058.05,217.25L1056.25,215.45L1056.25,211.55ZM1067.05,279.75L1070.95,279.75L1072.75,281.55L1072.75,285.45L1070.95,287.25L1067.05,287.25L1065.25,285.45L1065.25,281.55ZM1076.05,215.75L1079.95,215.75L1081.75,217.55L1081.75,221.45L1079.95,223.25L1076.05,223.25L1074.25,221.45L1074.25,217.55ZM1086.05,234.75L1089.95,234.75L1091.75,236.55L1091.75,240.45L1089.95,242.25L1086.05,242.25L1084.25,240.45L1084.25,236.55ZM1095.05,238.75L1098.95,238.75L1100.75,240.55L1100.75,244.45L1098.95,246.25L1095.05,246.25L1093.25,244.45L1093.25,240.55ZM1104.05,238.75L1107.95,238.75L1109.75,240.55L1109.75,244.45L1107.95,246.25L1104.05,246.25L1102.25,244.45L1102.25,240.55ZM1113.05,238.75L1116.95,238.75L1118.75,240.55L1118.75,244.45L1116.95,246.25L1113.05,246.25L1111.25,244.45L1111.25,240.55ZM1122.05,324.75L1125.95,324.75L1127.75,326.55L1127.75,330.45L1125.95,332.25L1122.05,332.25L1120.25,330.45L1120.25,326.55ZM1131.05,324.75L1134.95,324.75L1136.75,326.55L1136.75,330.45L1134.95,332.25L1131.05,332.25L1129.25,330.45L1129.25,326.55ZM1140.05,340.75L1143.95,340.75L1145.75,342.55L1145.75,346.45L1143.95,348.25L1140.05,348.25L1138.25,346.45L1138.25,342.55ZM1150.05,338.75L1153.95,338.75L1155.75,340.55L1155.75,344.45L1153.95,346.25L1150.05,346.25L1148.25,344.45L1148.25,340.55ZM1159.05,340.75L1162.95,340.75L1164.75,342.55L1164.75,346.45L1162.95,348.25L1159.05,348.25L1157.25,346.45L1157.25,342.55ZM1168.05,322.75L1171.95,322.75L1173.75,324.55L1173.75,328.45L1171.95,330.25L1168.05,330.25L1166.25,328.45L1166.25,324.55ZM1177.05,324.75L1180.95,324.75L1182.75,326.55L1182.75,330.45L1180.95,332.25L1177.05,332.25L1175.25,330.45L1175.25,326.55ZM1186.05,324.75L1189.95,324.75L1191.75,326.55L1191.75,330.45L1189.95,332.25L1186.05,332.25L1184.25,330.45L1184.25,326.55ZM1195.05,323.75L1198.95,323.75L1200.75,325.55L1200.75,329.45L1198.95,331.25L1195.05,331.25L1193.25,329.45L1193.25,325.55ZM1204.05,322.75L1207.95,322.75L1209.75,324.55L1209.75,328.45L1207.95,330.25L1204.05,330.25L1202.25,328.45L1202.25,324.55ZM1214.05,346.75L1217.95,346.75L1219.75,348.55L1219.75,352.45L1217.95,354.25L1214.05,354.25L1212.25,352.45L1212.25,348.55ZM1223.05,326.75L1226.95,326.75L1228.75,328.55L1228.75,332.45L1226.95,334.25L1223.05,334.25L1221.25,332.45L1221.25,328.55ZM1232.05,324.75L1235.95,324.75L1237.75,326.55L1237.75,330.45L1235.95,332.25L1232.05,332.25L1230.25,330.45L1230.25,326.55ZM1241.05,325.75L1244.95,325.75L1246.75,327.55L1246.75,331.45L1244.95,333.25L1241.05,333.25L1239.25,331.45L1239.25,327.55ZM1250.05,357.75L1253.95,357.75L1255.75,359.55L1255.75,363.45L1253.95,365.25L1250.05,365.25L1248.25,363.45L1248.25,359.55ZM1259.05,327.75L1262.95,327.75L1264.75,329.55L1264.75,333.45L1262.95,335.25L1259.05,335.25L1257.25,333.45L1257.25,329.55ZM1268.05,328.75L1271.95,328.75L1273.75,330.55L1273.75,334.45L1271.95,336.25L1268.05,336.25L1266.25,334.45L1266.25,330.55ZM1278.05,332.75L1281.95,332.75L1283.75,334.55L1283.75,338.45L1281.95,340.25L1278.05,340.25L1276.25,338.45L1276.25,334.55ZM1287.05,336.75L1290.95,336.75L1292.75,338.55L1292.75,342.45L1290.95,344.25L1287.05,344.25L1285.25,342.45L1285.25,338.55ZM1296.05,336.75L1299.95,336.75L1301.75,338.55L1301.75,342.45L1299.95,344.25L1296.05,344.25L1294.25,342.45L1294.25,338.55ZM1305.05,357.75L1308.95,357.75L1310.75,359.55L1310.75,363.45L1308.95,365.25L1305.05,365.25L1303.25,363.45L1303.25,359.55ZM1314.05,355.75L1317.95,355.75L1319.75,357.55L1319.75,361.45L1317.95,363.25L1314.05,363.25L1312.25,361.45L1312.25,357.55ZM1323.05,345.75L1326.95,345.75L1328.75,347.55L1328.75,351.45L1326.95,353.25L1323.05,353.25L1321.25,351.45L1321.25,347.55ZM1332.05,388.75L1335.95,388.75L1337.75,390.55L1337.75,394.45L1335.95,396.25L1332.05,396.25L1330.25,394.45L1330.25,390.55ZM1342.05,354.75L1345.95,354.75L1347.75,356.55L1347.75,360.45L1345.95,362.25L1342.05,362.25L1340.25,360.45L1340.25,356.55ZM1351.05,355.75L1354.95,355.75L1356.75,357.55L1356.75,361.45L1354.95,363.25L1351.05,363.25L1349.25,361.45L1349.25,357.55ZM1360.05,358.75L1363.95,358.75L1365.75,360.55L1365.75,364.45L1363.95,366.25L1360.05,366.25L1358.25,364.45L1358.25,360.55ZM1369.05,353.75L1372.95,353.75L1374.75,355.55L1374.75,359.45L1372.95,361.25L1369.05,361.25L1367.25,359.45L1367.25,355.55ZM1378.05,356.75L1381.95,356.75L1383.75,358.55L1383.75,362.45L1381.95,364.25L1378.05,364.25L1376.25,362.45L1376.25,358.55ZM1387.05,356.75L1390.95,356.75L1392.75,358.55L1392.75,362.45L1390.95,364.25L1387.05,364.25L1385.25,362.45L1385.25,358.55ZM1396.05,365.75L1399.95,365.75L1401.75,367.55L1401.75,371.45L1399.95,373.25L1396.05,373.25L1394.25,371.45L1394.25,367.55ZM1405.05,365.75L1408.95,365.75L1410.75,367.55L1410.75,371.45L1408.95,373.25L1405.05,373.25L1403.25,371.45L1403.25,367.55ZM1415.05,368.75L1418.95,368.75L1420.75,370.55L1420.75,374.45L1418.95,376.25L1415.05,376.25L1413.25,374.45L1413.25,370.55ZM1424.05,373.75L1427.95,373.75L1429.75,375.55L1429.75,379.45L1427.95,381.25L1424.05,381.25L1422.25,379.45L1422.25,375.55ZM1433.05,373.75L1436.95,373.75L1438.75,375.55L1438.75,379.45L1436.95,381.25L1433.05,381.25L1431.25,379.45L1431.25,375.55ZM1442.05,380.75L1445.95,380.75L1447.75,382.55L1447.75,386.45L1445.95,388.25L1442.05,388.25L1440.25,386.45L1440.25,382.55ZM1451.05,385.75L1454.95,385.75L1456.75,387.55L1456.75,391.45L1454.95,393.25L1451.05,393.25L1449.25,391.45L1449.25,387.55ZM1460.05,390.75L1463.95,390.75L1465.75,392.55L1465.75,396.45L1463.95,398.25L1460.05,398.25L1458.25,396.45L1458.25,392.55ZM1469.05,394.75L1472.95,394.75L1474.75,396.55L1474.75,400.45L1472.95,402.25L1469.05,402.25L1467.25,400.45L1467.25,396.55ZM1479.05,410.75L1482.95,410.75L1484.75,412.55L1484.75,416.45L1482.95,418.25L1479.05,418.25L1477.25,416.45L1477.25,412.55ZM1488.05,404.75L1491.95,404.75L1493.75,406.55L1493.75,410.45L1491.95,412.25L1488.05,412.25L1486.25,410.45L1486.25,406.55ZM1497.05,409.75L1500.95,409.75L1502.75,411.55L1502.75,415.45L1500.95,417.25L1497.05,417.25L1495.25,415.45L1495.25,411.55ZM1506.05,409.75L1509.95,409.75L1511.75,411.55L1511.75,415.45L1509.95,417.25L1506.05,417.25L1504.25,415.45L1504.25,411.55ZM1515.05,417.75L1518.95,417.75L1520.75,419.55L1520.75,423.45L1518.95,425.25L1515.05,425.25L1513.25,423.45L1513.25,419.55ZM1524.05,417.75L1527.95,417.75L1529.75,419.55L1529.75,423.45L1527.95,425.25L1524.05,425.25L1522.25,423.45L1522.25,419.55ZM1533.05,504.75L1536.95,504.75L1538.75,506.55L1538.75,510.45L1536.95,512.25L1533.05,512.25L1531.25,510.45L1531.25,506.55Z" fill="#00ff00" stroke="none" shape-rendering="crispEdges"/>
<path d="M183.00,1114.20L204.30,1151.00L162.30,1151.00ZM183.00,1129.20L174.72,1144.00L191.28,1144.00ZM192.00,1052.20L213.30,1089.00L171.30,1089.00ZM192.00,1067.20L183.72,1082.00L200.28,1082.00ZM201.00,1049.20L222.30,1086.00L180.30,1086.00ZM201.00,1064.20L192.72,1079.00L209.28,1079.00ZM210.00,989.20L231.30,1026.00L189.30,1026.00ZM210.00,1004.20L201.72,1019.00L218.28,1019.00ZM219.00,1052.20L240.30,1089.00L198.30,1089.00ZM219.00,1067.20L210.72,1082.00L227.28,1082.00ZM228.00,927.20L249.30,964.00L207.30,964.00ZM228.00,942.20L219.72,957.00L236.28,957.00ZM237.00,927.20L258.30,964.00L216.30,964.00ZM237.00,942.20L228.72,957.00L245.28,957.00ZM247.00,927.20L268.30,964.00L226.30,964.00ZM247.00,942.20L238.72,957.00L255.28,957.00ZM256.00,865.20L277.30,902.00L235.30,902.00ZM256.00,880.20L247.72,895.00L264.28,895.00ZM265.00,941.20L286.30,978.00L244.30,978.00ZM265.00,956.20L256.72,971.00L273.28,971.00ZM274.00,919.20L295.30,956.00L253.30,956.00ZM274.00,934.20L265.72,949.00L282.28,949.00ZM283.00,902.20L304.30,939.00L262.30,939.00ZM283.00,917.20L274.72,932.00L291.28,932.00ZM292.00,858.20L313.30,895.00L271.30,895.00ZM292.00,873.20L283.72,888.00L300.28,888.00ZM301.00,875.20L322.30,912.00L280.30,912.00ZM301.00,890.20L292.72,905.00L309.28,905.00ZM311.00,895.20L332.30,932.00L290.30,932.00ZM311.00,910.20L302.72,925.00L319.28,925.00ZM320.00,881.20L341.30,918.00L299.30,918.00ZM320.00,896.20L311.72,911.00L328.28,911.00ZM329.00,866.20L350.30,903.00L308.30,903.00ZM329.00,881.20L320.72,896.00L337.28,896.00ZM338.00,854.20L359.30,891.00L317.30,891.00ZM338.00,869.20L329.72,884.00L346.28,884.00ZM347.00,848.20L368.30,885.00L326.30,885.00ZM347.00,863.20L338.72,878.00L355.28,878.00ZM356.00,827.20L377.30,864.00L335.30,864.00ZM356.00,842.20L347.72,857.00L364.28,857.00ZM365.00,756.20L386.30,793.00L344.30,793.00ZM365.00,771.20L356.72,786.00L373.28,786.00ZM375.00,823.20L396.30,860.00L354.30,860.00ZM375.00,838.20L366.72,853.00L383.28,853.00ZM384.00,790.20L405.30,827.00L363.30,827.00ZM384.00,805.20L375.72,820.00L392.28,820.00ZM393.00,777.20L414.30,814.00L372.30,814.00ZM393.00,792.20L384.72,807.00L401.28,807.00ZM402.00,710.20L423.30,747.00L381.30,747.00ZM402.00,725.20L393.72,740.00L410.28,740.00ZM411.00,740.20L432.30,777.00L390.30,777.00ZM411.00,755.20L402.72,770.00L419.28,770.00ZM420.00,740.20L441.30,777.00L399.30,777.00ZM420.00,755.20L411.72,770.00L428.28,770.00ZM429.00,728.20L450.30,765.00L408.30,765.00ZM429.00,743.20L420.72,758.00L437.28,758.00ZM439.00,715.20L460.30,752.00L418.30,752.00ZM439.00,730.20L430.72,745.00L447.28,745.00ZM448.00,703.20L469.30,740.00L427.30,740.00ZM448.00,718.20L439.72,733.00L456.28,733.00ZM457.00,691.20L478.30,728.00L436.30,728.00ZM457.00,706.20L448.72,721.00L465.28,721.00ZM466.00,681.20L487.30,718.00L445.30,718.00ZM466.00,696.20L457.72,711.00L474.28,711.00ZM475.00,681.20L496.30,718.00L454.30,718.00ZM475.00,696.20L466.72,711.00L483.28,711.00ZM484.00,664.20L505.30,701.00L463.30,701.00ZM484.00,679.20L475.72,694.00L492.28,694.00ZM493.00,644.20L514.30,681.00L472.30,681.00ZM493.00,659.20L484.72,674.00L501.28,674.00ZM503.00,634.20L524.30,671.00L482.30,671.00ZM503.00,649.20L494.72,664.00L511.28,664.00ZM512.00,624.20L533.30,661.00L491.30,661.00ZM512.00,639.20L503.72,654.00L520.28,654.00ZM521.00,612.20L542.30,649.00L500.30,649.00ZM521.00,627.20L512.72,642.00L529.28,642.00ZM530.00,602.20L551.30,639.00L509.30,639.00ZM530.00,617.20L521.72,632.00L538.28,632.00ZM539.00,591.20L560.30,628.00L518.30,628.00ZM539.00,606.20L530.72,621.00L547.28,621.00ZM548.00,580.20L569.30,617.00L527.30,617.00ZM548.00,595.20L539.72,610.00L556.28,610.00ZM557.00,571.20L578.30,608.00L536.30,608.00ZM557.00,586.20L548.72,601.00L565.28,601.00ZM567.00,560.20L588.30,597.00L546.30,597.00ZM567.00,575.20L558.72,590.00L575.28,590.00ZM576.00,549.20L597.30,586.00L555.30,586.00ZM576.00,564.20L567.72,579.00L584.28,579.00ZM585.00,543.20L606.30,580.00L564.30,580.00ZM585.00,558.20L576.72,573.00L593.28,573.00ZM594.00,530.20L615.30,567.00L573.30,567.00ZM594.00,545.20L585.72,560.00L602.28,560.00ZM603.00,524.20L624.30,561.00L582.30,561.00ZM603.00,539.20L594.72,554.00L611.28,554.00ZM612.00,548.20L633.30,585.00L591.30,585.00ZM612.00,563.20L603.72,578.00L620.28,578.00ZM621.00,502.20L642.30,539.00L600.30,539.00ZM621.00,517.20L612.72,532.00L629.28,532.00ZM631.00,502.20L652.30,539.00L610.30,539.00ZM631.00,517.20L622.72,532.00L639.28,532.00ZM640.00,483.20L661.30,520.00L619.30,520.00ZM640.00,498.20L631.72,513.00L648.28,513.00ZM649.00,474.20L670.30,511.00L628.30,511.00ZM649.00,489.20L640.72,504.00L657.28,504.00ZM658.00,465.20L679.30,502.00L637.30,502.00ZM658.00,480.20L649.72,495.00L666.28,495.00ZM667.00,474.20L688.30,511.00L646.30,511.00ZM667.00,489.20L658.72,504.00L675.28,504.00ZM676.00,446.20L697.30,483.00L655.30,483.00ZM676.00,461.20L667.72,476.00L684.28,476.00ZM685.00,472.20L706.30,509.00L664.30,509.00ZM685.00,487.20L676.72,502.00L693.28,502.00ZM695.00,428.20L716.30,465.00L674.30,465.00ZM695.00,443.20L686.72,458.00L703.28,458.00ZM704.00,424.20L725.30,461.00L683.30,461.00ZM704.00,439.20L695.72,454.00L712.28,454.00ZM713.00,414.20L734.30,451.00L692.30,451.00ZM713.00,429.20L704.72,444.00L721.28,444.00ZM722.00,404.20L743.30,441.00L701.30,441.00ZM722.00,419.20L713.72,434.00L730.28,434.00ZM731.00,405.20L752.30,442.00L710.30,442.00ZM731.00,420.20L722.72,435.00L739.28,435.00ZM740.00,407.20L761.30,444.00L719.30,444.00ZM740.00,422.20L731.72,437.00L748.28,437.00ZM749.00,401.20L770.30,438.00L728.30,438.00ZM749.00,416.20L740.72,431.00L757.28,431.00ZM759.00,373.20L780.30,410.00L738.30,410.00ZM759.00,388.20L750.72,403.00L767.28,403.00ZM768.00,364.20L789.30,401.00L747.30,401.00ZM768.00,379.20L759.72,394.00L776.28,394.00ZM777.00,360.20L798.30,397.00L756.30,397.00ZM777.00,375.20L768.72,390.00L785.28,390.00ZM786.00,352.20L807.30,389.00L765.30,389.00ZM786.00,367.20L777.72,382.00L794.28,382.00ZM795.00,378.20L816.30,415.00L774.30,415.00ZM795.00,393.20L786.72,408.00L803.28,408.00ZM804.00,336.20L825.30,373.00L783.30,373.00ZM804.00,351.20L795.72,366.00L812.28,366.00ZM813.00,332.20L834.30,369.00L792.30,369.00ZM813.00,347.20L804.72,362.00L821.28,362.00ZM822.00,328.20L843.30,365.00L801.30,365.00ZM822.00,343.20L813.72,358.00L830.28,358.00ZM832.00,314.20L853.30,351.00L811.30,351.00ZM832.00,329.20L823.72,344.00L840.28,344.00ZM841.00,308.20L862.30,345.00L820.30,345.00ZM841.00,323.20L832.72,338.00L849.28,338.00ZM850.00,302.20L871.30,339.00L829.30,339.00ZM850.00,317.20L841.72,332.00L858.28,332.00ZM859.00,297.20L880.30,334.00L838.30,334.00ZM859.00,312.20L850.72,327.00L867.28,327.00ZM868.00,296.20L889.30,333.00L847.30,333.00ZM868.00,311.20L859.72,326.00L876.28,326.00ZM877.00,286.20L898.30,323.00L856.30,323.00ZM877.00,301.20L868.72,316.00L885.28,316.00ZM886.00,278.20L907.30,315.00L865.30,315.00ZM886.00,293.20L877.72,308.00L894.28,308.00ZM896.00,272.20L917.30,309.00L875.30,309.00ZM896.00,287.20L887.72,302.00L904.28,302.00ZM905.00,266.20L926.30,303.00L884.30,303.00ZM905.00,281.20L896.72,296.00L913.28,296.00ZM914.00,263.20L935.30,300.00L893.30,300.00ZM914.00,278.20L905.72,293.00L922.28,293.00ZM923.00,256.20L944.30,293.00L902.30,293.00ZM923.00,271.20L914.72,286.00L931.28,286.00ZM932.00,257.20L953.30,294.00L911.30,294.00ZM932.00,272.20L923.72,287.00L940.28,287.00ZM941.00,280.20L962.30,317.00L920.30,317.00ZM941.00,295.20L932.72,310.00L949.28,310.00ZM950.00,241.20L971.30,278.00L929.30,278.00ZM950.00,256.20L941.72,271.00L958.28,271.00ZM960.00,253.20L981.30,290.00L939.30,290.00ZM960.00,268.20L951.72,283.00L968.28,283.00ZM969.00,235.20L990.30,272.00L948.30,272.00ZM969.00,250.20L960.72,265.00L977.28,265.00ZM978.00,226.20L999.30,263.00L957.30,263.00ZM978.00,241.20L969.72,256.00L986.28,256.00ZM987.00,221.20L1008.30,258.00L966.30,258.00ZM987.00,236.20L978.72,251.00L995.28,251.00ZM996.00,218.20L1017.30,255.00L975.30,255.00ZM996.00,233.20L987.72,248.00L1004.28,248.00ZM1005.00,219.20L1026.30,256.00L984.30,256.00ZM1005.00,234.20L996.72,249.00L1013.28,249.00ZM1014.00,208.20L1035.30,245.00L993.30,245.00ZM1014.00,223.20L1005.72,238.00L1022.28,238.00ZM1024.00,204.20L1045.30,241.00L1003.30,241.00ZM1024.00,219.20L1015.72,234.00L1032.28,234.00ZM1033.00,211.20L1054.30,248.00L1012.30,248.00ZM1033.00,226.20L1024.72,241.00L1041.28,241.00ZM1042.00,196.20L1063.30,233.00L1021.30,233.00ZM1042.00,211.20L1033.72,226.00L1050.28,226.00ZM1051.00,213.20L1072.30,250.00L1030.30,250.00ZM1051.00,228.20L1042.72,243.00L1059.28,243.00ZM1060.00,189.20L1081.30,226.00L1039.30,226.00ZM1060.00,204.20L1051.72,219.00L1068.28,219.00ZM1069.00,259.20L1090.30,296.00L1048.30,296.00ZM1069.00,274.20L1060.72,289.00L1077.28,289.00ZM1078.00,195.20L1099.30,232.00L1057.30,232.00ZM1078.00,210.20L1069.72,225.00L1086.28,225.00ZM1088.00,214.20L1109.30,251.00L1067.30,251.00ZM1088.00,229.20L1079.72,244.00L1096.28,244.00ZM1097.00,218.20L1118.30,255.00L1076.30,255.00ZM1097.00,233.20L1088.72,248.00L1105.28,248.00ZM1106.00,218.20L1127.30,255.00L1085.30,255.00ZM1106.00,233.20L1097.72,248.00L1114.28,248.00ZM1115.00,218.20L1136.30,255.00L1094.30,255.00ZM1115.00,233.20L1106.72,248.00L1123.28,248.00ZM1124.00,304.20L1145.30,341.00L1103.30,341.00ZM1124.00,319.20L1115.72,334.00L1132.28,334.00ZM1133.00,304.20L1154.30,341.00L1112.30,341.00ZM1133.00,319.20L1124.72,334.00L1141.28,334.00ZM1142.00,320.20L1163.30,357.00L1121.30,357.00ZM1142.00,335.20L1133.72,350.00L1150.28,350.00ZM1152.00,318.20L1173.30,355.00L1131.30,355.00ZM1152.00,333.20L1143.72,348.00L1160.28,348.00ZM1161.00,320.20L1182.30,357.00L1140.30,357.00ZM1161.00,335.20L1152.72,350.00L1169.28,350.00ZM1170.00,302.20L1191.30,339.00L1149.30,339.00ZM1170.00,317.20L1161.72,332.00L1178.28,332.00ZM1179.00,304.20L1200.30,341.00L1158.30,341.00ZM1179.00,319.20L1170.72,334.00L1187.28,334.00ZM1188.00,304.20L1209.30,341.00L1167.30,341.00ZM1188.00,319.20L1179.72,334.00L1196.28,334.00ZM1197.00,303.20L1218.30,340.00L1176.30,340.00ZM1197.00,318.20L1188.72,333.00L1205.28,333.00ZM1206.00,302.20L1227.30,339.00L1185.30,339.00ZM1206.00,317.20L1197.72,332.00L1214.28,332.00ZM1216.00,326.20L1237.30,363.00L1195.30,363.00ZM1216.00,341.20L1207.72,356.00L1224.28,356.00ZM1225.00,306.20L1246.30,343.00L1204.30,343.00ZM1225.00,321.20L1216.72,336.00L1233.28,336.00ZM1234.00,304.20L1255.30,341.00L1213.30,341.00ZM1234.00,319.20L1225.72,334.00L1242.28,334.00ZM1243.00,305.20L1264.30,342.00L1222.30,342.00ZM1243.00,320.20L1234.72,335.00L1251.28,335.00ZM1252.00,337.20L1273.30,374.00L1231.30,374.00ZM1252.00,352.20L1243.72,367.00L1260.28,367.00ZM1261.00,307.20L1282.30,344.00L1240.30,344.00ZM1261.00,322.20L1252.72,337.00L1269.28,337.00ZM1270.00,308.20L1291.30,345.00L1249.30,345.00ZM1270.00,323.20L1261.72,338.00L1278.28,338.00ZM1280.00,312.20L1301.30,349.00L1259.30,349.00ZM1280.00,327.20L1271.72,342.00L1288.28,342.00ZM1289.00,316.20L1310.30,353.00L1268.30,353.00ZM1289.00,331.20L1280.72,346.00L1297.28,346.00ZM1298.00,316.20L1319.30,353.00L1277.30,353.00ZM1298.00,331.20L1289.72,346.00L1306.28,346.00ZM1307.00,337.20L1328.30,374.00L1286.30,374.00ZM1307.00,352.20L1298.72,367.00L1315.28,367.00ZM1316.00,335.20L1337.30,372.00L1295.30,372.00ZM1316.00,350.20L1307.72,365.00L1324.28,365.00ZM1325.00,325.20L1346.30,362.00L1304.30,362.00ZM1325.00,340.20L1316.72,355.00L1333.28,355.00ZM1334.00,368.20L1355.30,405.00L1313.30,405.00ZM1334.00,383.20L1325.72,398.00L1342.28,398.00ZM1344.00,334.20L1365.30,371.00L1323.30,371.00ZM1344.00,349.20L1335.72,364.00L1352.28,364.00ZM1353.00,335.20L1374.30,372.00L1332.30,372.00ZM1353.00,350.20L1344.72,365.00L1361.28,365.00ZM1362.00,338.20L1383.30,375.00L1341.30,375.00ZM1362.00,353.20L1353.72,368.00L1370.28,368.00ZM1371.00,333.20L1392.30,370.00L1350.30,370.00ZM1371.00,348.20L1362.72,363.00L1379.28,363.00ZM1380.00,336.20L1401.30,373.00L1359.30,373.00ZM1380.00,351.20L1371.72,366.00L1388.28,366.00ZM1389.00,336.20L1410.30,373.00L1368.30,373.00ZM1389.00,351.20L1380.72,366.00L1397.28,366.00ZM1398.00,345.20L1419.30,382.00L1377.30,382.00ZM1398.00,360.20L1389.72,375.00L1406.28,375.00ZM1407.00,345.20L1428.30,382.00L1386.30,382.00ZM1407.00,360.20L1398.72,375.00L1415.28,375.00ZM1417.00,348.20L1438.30,385.00L1396.30,385.00ZM1417.00,363.20L1408.72,378.00L1425.28,378.00ZM1426.00,353.20L1447.30,390.00L1405.30,390.00ZM1426.00,368.20L1417.72,383.00L1434.28,383.00ZM1435.00,353.20L1456.30,390.00L1414.30,390.00ZM1435.00,368.20L1426.72,383.00L1443.28,383.00ZM1444.00,360.20L1465.30,397.00L1423.30,397.00ZM1444.00,375.20L1435.72,390.00L1452.28,390.00ZM1453.00,365.20L1474.30,402.00L1432.30,402.00ZM1453.00,380.20L1444.72,395.00L1461.28,395.00ZM1462.00,370.20L1483.30,407.00L1441.30,407.00ZM1462.00,385.20L1453.72,400.00L1470.28,400.00ZM1471.00,374.20L1492.30,411.00L1450.30,411.00ZM1471.00,389.20L1462.72,404.00L1479.28,404.00ZM1481.00,390.20L1502.30,427.00L1460.30,427.00ZM1481.00,405.20L1472.72,420.00L1489.28,420.00ZM1490.00,384.20L1511.30,421.00L1469.30,421.00ZM1490.00,399.20L1481.72,414.00L1498.28,414.00ZM1499.00,389.20L1520.30,426.00L1478.30,426.00ZM1499.00,404.20L1490.72,419.00L1507.28,419.00ZM1508.00,389.20L1529.30,426.00L1487.30,426.00ZM1508.00,404.20L1499.72,419.00L1516.28,419.00ZM1517.00,397.20L1538.30,434.00L1496.30,434.00ZM1517.00,412.20L1508.72,427.00L1525.28,427.00ZM1526.00,397.20L1547.30,434.00L1505.30,434.00ZM1526.00,412.20L1517.72,427.00L1534.28,427.00ZM1535.00,484.20L1556.30,521.00L1514.30,521.00ZM1535.00,499.20L1526.72,514.00L1543.28,514.00ZM1545.00,416.20L1566.30,453.00L1524.30,453.00ZM1545.00,431.20L1536.72,446.00L1553.28,446.00Z" fill="#00ff00" fill-rule="nonzero" stroke="none" shape-rendering="crispEdges"/>
<rect x="1241.5" y="91.5" width="269.20000000000005" height="113.1" fill="#ffffff" stroke="#262626" stroke-width="3" shape-rendering="crispEdges"/>
<line x1="1254" y1="122.1" x2="1381.3" y2="122.1" stroke="#ff0000" stroke-width="7.5" shape-rendering="crispEdges"/>
<line x1="1254" y1="173.5" x2="1381.3" y2="173.5" stroke="#00ff00" stroke-width="7" shape-rendering="crispEdges"/>
<path d="M1317.00,149.20L1338.30,186.00L1296.30,186.00ZM1317.00,164.20L1308.72,179.00L1325.28,179.00Z" fill="#00ff00" fill-rule="nonzero" stroke="none" shape-rendering="crispEdges"/>
<text class="g" x="1390.0" y="138.2">DDQL</text>
<text class="g" x="1390.0" y="189.4">IQL</text>
</svg></body></html>
